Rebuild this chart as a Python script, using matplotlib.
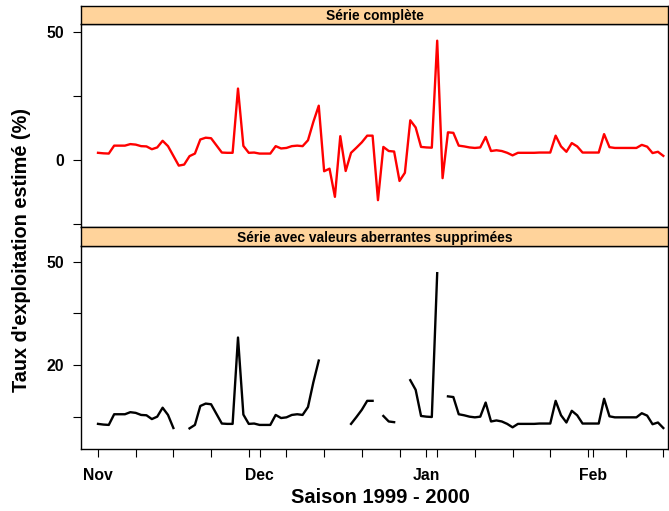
import numpy as np
import pandas as pd
import matplotlib
matplotlib.use('Agg')
import matplotlib.pyplot as plt
import matplotlib.dates as mdates

plt.rcParams['font.family'] = ['Liberation Sans', 'DejaVu Sans']
plt.rcParams['font.weight'] = 'bold'

# daily estimated exploitation rate (%), 1 Nov 1999 -> 14 Feb 2000
start_date = '1999-11-01'
taux = [2.9, 2.7, 2.6, 5.7, 5.7, 5.7, 6.3, 6.1, 5.5, 5.4,
        4.3, 5.0, 7.6, 5.5, 1.7, -2.1, -1.7, 1.6, 2.6, 8.1,
        8.8, 8.6, 5.8, 3.0, 2.9, 2.9, 28.0, 5.6, 2.9, 3.0,
        2.6, 2.6, 2.6, 5.5, 4.6, 4.8, 5.5, 5.7, 5.5, 7.8,
        15.0, 21.3, -4.3, -3.3, -14.3, 9.4, -4.2, 2.9, 4.9, 7.0,
        9.6, 9.6, -15.6, 5.2, 3.6, 3.4, -8.1, -4.9, 15.6, 12.8,
        5.2, 5.0, 4.9, 46.7, -7.0, 10.9, 10.7, 5.7, 5.4, 5.0,
        4.8, 5.0, 9.1, 3.6, 3.9, 3.6, 2.9, 1.9, 2.9, 2.9,
        2.9, 2.9, 3.0, 3.0, 3.0, 9.6, 5.4, 3.3, 6.7, 5.4,
        3.0, 3.0, 3.0, 3.0, 10.2, 5.1, 4.8, 4.8, 4.8, 4.8,
        4.8, 6.0, 5.3, 2.8, 3.3, 1.7]

titles = ['Série complète', 'Série avec valeurs aberrantes supprimées']
month_labels = ['Nov', 'Dec', 'Jan', 'Feb']
month_starts = ['1999-11-01', '1999-12-01', '2000-01-01', '2000-02-01']

dates = pd.date_range(start_date, periods=len(taux), freq='D')
serie = np.array(taux)
# outliers (negative rates) removed
serie_nettoyee = np.where(serie < 0, np.nan, serie)

STRIP_COL = '#FFD39B'
W, H = 669, 511

fig = plt.figure(figsize=(W / 100, H / 100), dpi=100)

def fx(px):
    return px / W

def fy(py):
    return 1 - py / H

left, right = fx(81), fx(668)
# (top px, bottom px) for each strip and each panel
strips = [(6, 24.3), (227.3, 246)]
panels = [(24.3, 227.3), (246, 449)]
ylims = [(-26.2, 53.1), (-4.4, 54.6)]
yticks = [[-25, 0, 25, 50], [5, 20, 35, 50]]
ylabels = [['', '0', '', '50'], ['', '20', '', '50']]
series = [serie, serie_nettoyee]
colors = ['red', 'black']

x0 = pd.Timestamp(start_date)
xlim = (x0 - pd.Timedelta(days=3.16), x0 + pd.Timedelta(days=105.87))
weekly = pd.date_range(start_date, '2000-02-14', freq='7D')

for i in range(2):
    top, bot = panels[i]
    ax = fig.add_axes([left, fy(bot), right - left, fy(top) - fy(bot)])
    ax.plot(dates, series[i], color=colors[i], lw=1.7)
    ax.set_xlim(xlim)
    ax.set_ylim(ylims[i])
    ax.set_yticks(yticks[i])
    ax.set_yticklabels(ylabels[i])
    ax.tick_params(axis='y', length=6, width=0.8, pad=6, labelsize=11.3)
    ax.set_xticks(pd.to_datetime(month_starts))
    ax.set_xticks(weekly, minor=True)
    if i == 1:
        ax.set_xticklabels(month_labels)
        ax.tick_params(axis='x', which='both', length=6, width=0.8,
                       pad=8, labelsize=11.3)
    else:
        ax.tick_params(axis='x', which='both', length=0, labelbottom=False)
    for sp in ax.spines.values():
        sp.set_linewidth(1.0)

    st, sb = strips[i]
    sax = fig.add_axes([left, fy(sb), right - left, fy(st) - fy(sb)])
    sax.set_facecolor(STRIP_COL)
    sax.set_xticks([])
    sax.set_yticks([])
    for sp in sax.spines.values():
        sp.set_linewidth(1.0)
    sax.text(0.5, 0.45, titles[i], ha='center', va='center',
             fontsize=9.9, fontweight='bold', transform=sax.transAxes)

fig.text(fx(380), fy(497), 'Saison 1999 - 2000', ha='center', va='center',
         fontsize=14.5, fontweight='bold')
fig.text(fx(22), fy(250), "Taux d'exploitation estimé (%)", ha='center',
         va='center', rotation=90, fontsize=14.3, fontweight='bold')

fig.savefig('out.png', dpi=100)
